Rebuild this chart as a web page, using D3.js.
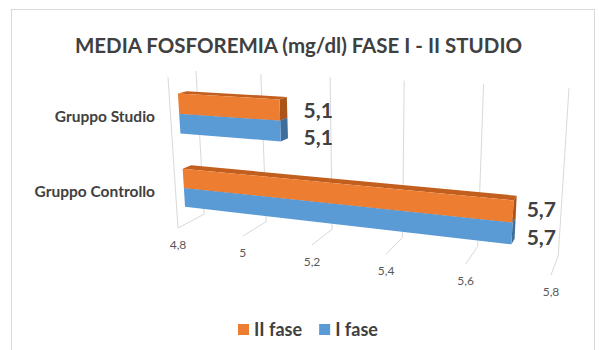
<!DOCTYPE html>
<html><head><meta charset="utf-8">
<script src="https://cdn.jsdelivr.net/npm/d3@7"></script>
<style>
html,body{margin:0;padding:0;background:#fff;}
svg{display:block;}
text{font-family:Lato,"Open Sans",sans-serif;}
</style></head><body>
<svg id="chart" width="599" height="350"></svg>
<script>
// ---- data ----
const chartTitle = "MEDIA FOSFOREMIA (mg/dl) FASE I - II STUDIO";
const categories = ["Gruppo Controllo", "Gruppo Studio"];   // bottom to top
const seriesNames = ["I fase", "II fase"];                  // bottom to top inside each group
const faseI  = [5.7, 5.1];
const faseII = [5.7, 5.1];
const tickValues = [4.8, 5.0, 5.2, 5.4, 5.6, 5.8];
const legendOrder = ["II fase", "I fase"];

const seriesValues = {"I fase": faseI, "II fase": faseII};
const palette = {
  "I fase":  {front: "#5B9BD5", top: "#4A86BE", side: "#3E6E9C"},
  "II fase": {front: "#ED7D31", top: "#C25E1E", side: "#AB5419"}
};

const svg = d3.select("#chart");
const itFmt = d3.formatLocale({decimal: ",", thousands: ".", grouping: [3], currency: ["€", ""]}).format("~g");

// ---- 3D plot box (unit cube) and perspective camera ----
// homogeneous 3x4 projection: columns = value axis, vertical axis, depth axis, front-bottom-left corner
const camera = [
  [285.4,  -18.23,  37.73, 178],
  [3.3,   -154.77,  -1.68, 228],
  [-0.159,  -0.049,  0.0567, 1]
];
function project(px, py, pz) {
  const h = camera.map(r => r[0] * px + r[1] * py + r[2] * pz + r[3]);
  return [h[0] / h[2], h[1] / h[2]];
}

const x = d3.scaleLinear().domain([4.8, 5.8]).range([0, 1]);
const yCat = d3.scaleBand().domain(categories).range([0, 1]).paddingInner(0.474).paddingOuter(0.237);
const ySer = d3.scaleBand().domain(seriesNames).range([0, yCat.bandwidth()]);
const barDepth = [0.3, 0.615];   // front and back of the bars along the depth axis

// chart area border
svg.append("rect").attr("x", 11.5).attr("y", 9.5).attr("width", 583).attr("height", 360)
  .attr("fill", "#fff").attr("stroke", "#d9d9d9").attr("stroke-width", 1);

// title
svg.append("text").attr("x", 298.5).attr("y", 52.5).attr("text-anchor", "middle")
  .attr("font-size", 21.5).attr("font-weight", 700).attr("fill", "#404040")
  .attr("textLength", 447).attr("lengthAdjust", "spacingAndGlyphs")
  .text(chartTitle);

// ---- walls and floor gridlines ----
const line = d3.line();
const grid = svg.append("g").attr("fill", "none").attr("stroke", "#d9d9d9").attr("stroke-width", 1);
tickValues.forEach(t => {
  grid.append("path").attr("d", line([project(x(t), 1, 1), project(x(t), 0, 1), project(x(t), 0, 0)]));
});
grid.append("path").attr("d", line([project(0, 1, 0), project(0, 0, 0)]));

// value tick labels along the front edge of the floor
svg.append("g").selectAll("text").data(tickValues).join("text")
  .attr("x", d => project(x(d), 0, 0)[0])
  .attr("y", d => project(x(d), 0, 0)[1] + 21)
  .attr("text-anchor", "middle").attr("font-size", 12).attr("fill", "#595959")
  .text(d => itFmt(d));

// category labels
svg.append("g").selectAll("text").data(categories).join("text")
  .attr("x", project(0, 1, 0)[0] - 13)
  .attr("y", d => project(0, yCat(d) + yCat.bandwidth() / 2, 0)[1])
  .attr("dy", "0.35em").attr("text-anchor", "end")
  .attr("font-size", 15.5).attr("font-weight", 700).attr("fill", "#404040")
  .text(d => d);

// ---- bars ----
const bars = [];
categories.forEach((c, i) => {
  seriesNames.forEach(s => {
    bars.push({cat: c, series: s, value: seriesValues[s][i]});
  });
});

const poly = pts => "M" + pts.map(p => project(...p).join(",")).join("L") + "Z";
const [z0, z1] = barDepth;
const barG = svg.append("g");
bars.forEach(b => {
  const y0 = yCat(b.cat) + ySer(b.series), y1 = y0 + ySer.bandwidth();
  const x0 = x(x.domain()[0]), x1 = x(b.value);
  const col = palette[b.series];
  const g = barG.append("g");
  g.append("path").attr("fill", col.side)
    .attr("d", poly([[x1, y0, z0], [x1, y1, z0], [x1, y1, z1], [x1, y0, z1]]));
  g.append("path").attr("fill", col.top)
    .attr("d", poly([[x0, y1, z0], [x1, y1, z0], [x1, y1, z1], [x0, y1, z1]]));
  g.append("path").attr("fill", col.front)
    .attr("d", poly([[x0, y0, z0], [x1, y0, z0], [x1, y1, z0], [x0, y1, z0]]));
});

// value labels at the bar ends
const labelShift = {"II fase": 3, "I fase": 9};
svg.append("g").selectAll("text").data(bars).join("text")
  .attr("x", d => project(x(d.value), 0, z1)[0] + 13)
  .attr("y", d => {
    const yc = yCat(d.cat) + ySer(d.series) + ySer.bandwidth() / 2;
    return project(x(d.value), yc, z1)[1] + labelShift[d.series];
  })
  .attr("dy", "0.36em").attr("font-size", 21).attr("font-weight", 700).attr("fill", "#404040")
  .text(d => itFmt(d.value));

// ---- legend ----
const legend = svg.append("g");
let lx = 238;
legendOrder.forEach(s => {
  legend.append("rect").attr("x", lx).attr("y", 324).attr("width", 11).attr("height", 11)
    .attr("fill", palette[s].front);
  const t = legend.append("text").attr("x", lx + 16).attr("y", 335.5)
    .attr("font-size", 18).attr("font-weight", 700).attr("fill", "#404040").text(s);
  lx += 16 + t.node().getComputedTextLength() + 17;
});
</script>
</body></html>
